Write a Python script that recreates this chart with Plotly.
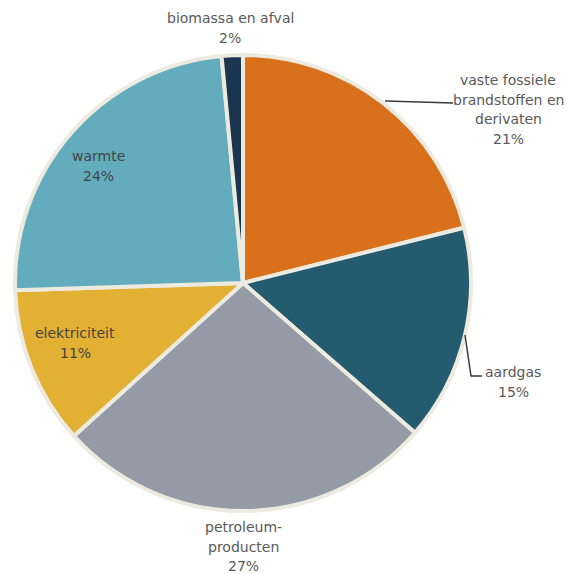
import plotly.graph_objects as go

labels = ["vaste fossiele brandstoffen en derivaten", "aardgas", "petroleumproducten",
          "elektriciteit", "warmte", "biomassa en afval"]
display_labels = ["vaste fossiele<br>brandstoffen en<br>derivaten", "aardgas", "petroleum-<br>producten",
                  "elektriciteit", "warmte", "biomassa en afval"]
values = [21.1, 15.3, 26.9, 11.2, 24.0, 1.5]
percent_labels = ["21%", "15%", "27%", "11%", "24%", "2%"]
colors = ["#D9711C", "#245B6E", "#949BA6", "#E2B033", "#62ACBD", "#1B3550"]

OFF = 8  # page body margin
W, H = 565, 566
# plot area in page pixels: left 15, top 55, size 456
ML, MT, PW, PH = 15 - OFF, 55 - OFF, 456, 456
MR, MB = W - ML - PW, H - MT - PH


def px(x):
    return (x - OFF - ML) / PW


def py(y):
    return (MT + PH - (y - OFF)) / PH


fig = go.Figure(go.Pie(
    labels=labels, values=values, sort=False, direction="clockwise", rotation=0,
    marker=dict(colors=colors, line=dict(color="#EDEAE0", width=4)),
    textinfo="none", hoverinfo="label+percent", showlegend=False,
))

# first-line centre positions (page pixels) and styles
label_pos = [(508, 80), (513, 372), (243, 527), (75, 333), (98, 156), (230, 18)]
inside = [False, False, False, True, True, False]
LINE_H = 19.5
anns = []
for lab, pct, (x, y), ins in zip(display_labels, percent_labels, label_pos, inside):
    lines = lab.split("<br>") + [pct]
    for i, t in enumerate(lines):
        anns.append(dict(
            x=px(x), y=py(y + i * LINE_H), xref="paper", yref="paper", showarrow=False,
            text=t, align="center", xanchor="center", yanchor="middle",
            font=dict(family="DejaVu Sans", size=14, color="#444444" if ins else "#595959"),
        ))

line_style = dict(color="#3a3a3a", width=1.5)
shapes = [
    dict(type="path", xref="paper", yref="paper",
         path=f"M {px(385)} {py(101)} L {px(453)} {py(103)}", line=line_style),
    dict(type="path", xref="paper", yref="paper",
         path=f"M {px(465)} {py(335)} L {px(471)} {py(376)} L {px(482)} {py(376)}", line=line_style),
]

fig.update_layout(
    width=W, height=H, margin=dict(l=ML, r=MR, t=MT, b=MB),
    paper_bgcolor="white", plot_bgcolor="white",
    annotations=anns, shapes=shapes,
)
fig.write_html("out.html")
